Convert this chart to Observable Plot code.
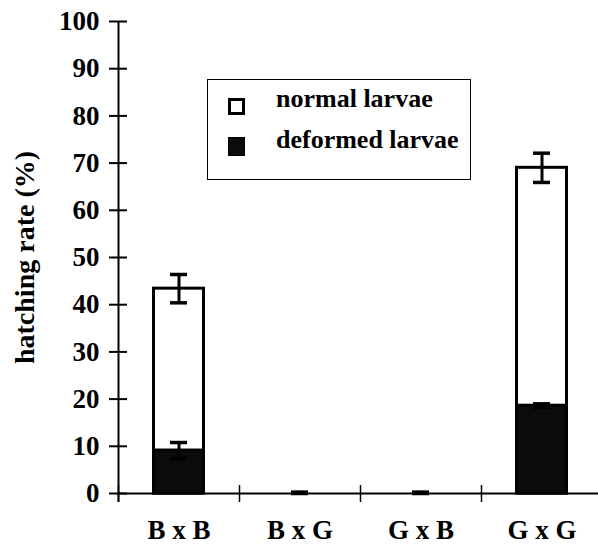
<!DOCTYPE html>
<html>
<head>
<meta charset="utf-8">
<script src="https://cdn.jsdelivr.net/npm/d3@7"></script>
<script src="https://cdn.jsdelivr.net/npm/@observablehq/plot@0.6"></script>
<style>
  html, body { margin: 0; padding: 0; background: #fff; }
  #wrap { position: relative; width: 598px; height: 545px; }
  #legend {
    position: absolute; left: 207px; top: 79px; width: 264px; height: 101px;
    border: 1.5px solid #000; box-sizing: border-box; background: #fff;
    font-family: "Liberation Serif", serif; font-size: 26px; font-weight: bold; color: #000;
  }
  .sw { position: absolute; left: 20px; width: 17px; height: 17px; box-sizing: border-box; }
  .lt { position: absolute; left: 68px; white-space: nowrap; line-height: 1; }
</style>
</head>
<body>
<div id="wrap"></div>
<script>
const categories = ["B x B", "B x G", "G x B", "G x G"];
const totalHatch = [43.4, 0, 0, 69.0];
const totalErr = [3.0, 0.3, 0.3, 3.1];
const deformed = [9.1, 0, 0, 18.6];
const deformedErr = [1.7, 0, 0, 0.4];
const yTicks = [0, 10, 20, 30, 40, 50, 60, 70, 80, 90, 100];
const legendLabels = ["normal larvae", "deformed larvae"];
const yTitle = "hatching rate (%)";

const rows = categories.map((c, i) => ({
  cat: c, total: totalHatch[i], tErr: totalErr[i], def: deformed[i], dErr: deformedErr[i]
}));
const W = 598, H = 545, ML = 118, MT = 21, MB = 52;
const xRange = [ML, 602];
const bw = (xRange[1] - xRange[0]) / categories.length;
const barW = 50, capW = 17;
const frameW = W - ML;

const errRows = [];
rows.forEach(r => {
  if (r.tErr > 0) errRows.push({cat: r.cat, lo: Math.max(0, r.total - r.tErr), hi: r.total + r.tErr});
  if (r.dErr > 0) errRows.push({cat: r.cat, lo: Math.max(0, r.def - r.dErr), hi: r.def + r.dErr});
});
const capRows = errRows.flatMap(e => [{cat: e.cat, y: e.lo}, {cat: e.cat, y: e.hi}]);

const chart = Plot.plot({
  width: W, height: H,
  marginLeft: ML, marginRight: 0, marginTop: MT, marginBottom: MB,
  style: {fontFamily: "'Liberation Serif', serif", background: "#fff", color: "#000"},
  x: {domain: categories, range: xRange, padding: 0},
  y: {domain: [0, 100]},
  marks: [
    Plot.barY(rows, {x: "cat", y1: 0, y2: "total", fill: "#fff", stroke: "#000", strokeWidth: 3,
      insetLeft: (bw - barW) / 2, insetRight: (bw - barW) / 2}),
    Plot.barY(rows.filter(r => r.def > 0), {x: "cat", y1: 0, y2: "def", fill: "#0b0b0b", stroke: "#000", strokeWidth: 3,
      insetLeft: (bw - barW) / 2, insetRight: (bw - barW) / 2}),
    Plot.ruleX(errRows, {x: "cat", y1: "lo", y2: "hi", stroke: "#000", strokeWidth: 3}),
    Plot.tickY(capRows, {x: "cat", y: "y", stroke: "#000", strokeWidth: 3.5,
      insetLeft: (bw - capW) / 2, insetRight: (bw - capW) / 2}),
    Plot.ruleY([0], {stroke: "#000", strokeWidth: 2}),
    Plot.ruleX([categories[0]], {x: d => d, y1: 100, y2: 0, dx: -bw / 2, insetBottom: -9, stroke: "#000", strokeWidth: 2}),
    Plot.ruleX(categories, {x: d => d, y1: 0, y2: 0, dx: -bw / 2, insetTop: -8, insetBottom: -9, stroke: "#000", strokeWidth: 1.5}),
    Plot.ruleY(yTicks, {y: d => d, dx: -9, insetRight: frameW - 18, stroke: "#000", strokeWidth: 2}),
    Plot.axisY({ticks: yTicks, tickSize: 0, tickPadding: 19, fontSize: 27, fontWeight: "bold", label: null, tickFormat: d => String(d)}),
    Plot.axisX({tickSize: 0, tickPadding: 26, fontSize: 27, fontWeight: "bold", label: null}),
    Plot.text([yTitle], {frameAnchor: "left", text: d => d, rotate: -90, dx: -93, fontSize: 28, fontWeight: "bold",
      textAnchor: "middle", lineAnchor: "middle"})
  ]
});
const wrap = document.getElementById("wrap");
wrap.appendChild(chart);

const lg = document.createElement("div");
lg.id = "legend";
lg.innerHTML = `
  <div class="sw" style="top:18px;border:3px solid #000;background:#fff"></div>
  <div class="lt" style="top:6px">${legendLabels[0]}</div>
  <div class="sw" style="top:57px;height:19px;background:#0b0b0b;border:1px solid #000"></div>
  <div class="lt" style="top:47px">${legendLabels[1]}</div>`;
wrap.appendChild(lg);
</script>
</body>
</html>
